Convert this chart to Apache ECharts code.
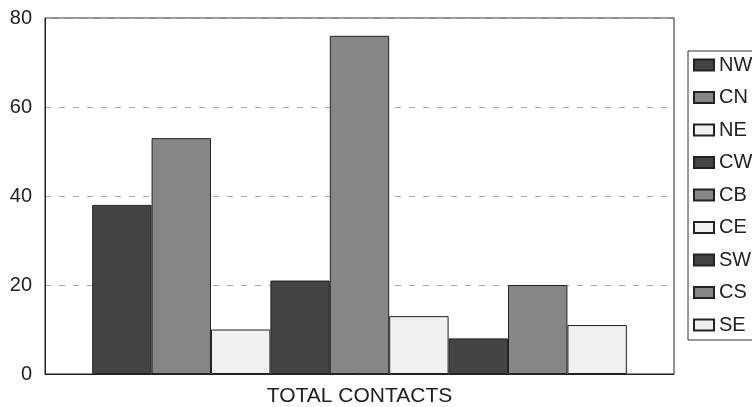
<!DOCTYPE html>
<html>
<head>
<meta charset="utf-8">
<script src="https://cdn.jsdelivr.net/npm/echarts@6/dist/echarts.min.js"></script>
<style>html,body{margin:0;padding:0;background:#fff}#c{width:752px;height:407px}</style>
</head>
<body>
<div id="c"></div>
<script>
const categories = ['TOTAL CONTACTS'];
const seriesNames = ['NW', 'CN', 'NE', 'CW', 'CB', 'CE', 'SW', 'CS', 'SE'];
const seriesValues = [38, 53, 10, 21, 76, 13, 8, 20, 11];
const seriesColors = ['#444444', '#868686', '#f0f0f0', '#444444', '#868686', '#f0f0f0', '#444444', '#868686', '#f0f0f0'];
const yTicks = [0, 20, 40, 60, 80];

const font = 'Liberation Sans, Arial, sans-serif';
const chart = echarts.init(document.getElementById('c'), null, {renderer: 'canvas'});
chart.setOption({
  animation: false,
  backgroundColor: '#ffffff',
  grid: {left: 45, top: 18, right: 78, bottom: 33, show: true, borderColor: '#222', borderWidth: 1},
  legend: {
    orient: 'vertical', left: 688, top: 51,
    padding: [4, 40, 5, 5], itemGap: 12.5,
    itemWidth: 20, itemHeight: 11,
    borderColor: '#333', borderWidth: 1,
    icon: 'rect',
    textStyle: {fontFamily: font, fontSize: 20, color: '#222', lineHeight: 20},
    data: seriesNames
  },
  xAxis: {
    type: 'category', data: categories,
    axisLine: {show: true, lineStyle: {color: '#222'}},
    axisTick: {show: false},
    axisLabel: {fontFamily: font, fontSize: 21, color: '#222', margin: 12}
  },
  yAxis: {
    type: 'value', min: yTicks[0], max: yTicks[yTicks.length - 1], interval: 20,
    axisLine: {show: true, lineStyle: {color: '#222'}},
    axisTick: {show: false},
    axisLabel: {fontFamily: font, fontSize: 20, color: '#222', margin: 13},
    splitLine: {show: true, lineStyle: {color: '#aaa', type: [6, 8], width: 1}}
  },
  series: seriesNames.map((n, i) => ({
    name: n, type: 'bar', data: [seriesValues[i]],
    barGap: '0%', barCategoryGap: '15%',
    itemStyle: {color: seriesColors[i], borderColor: '#222', borderWidth: 1}
  }))
});
</script>
</body>
</html>
